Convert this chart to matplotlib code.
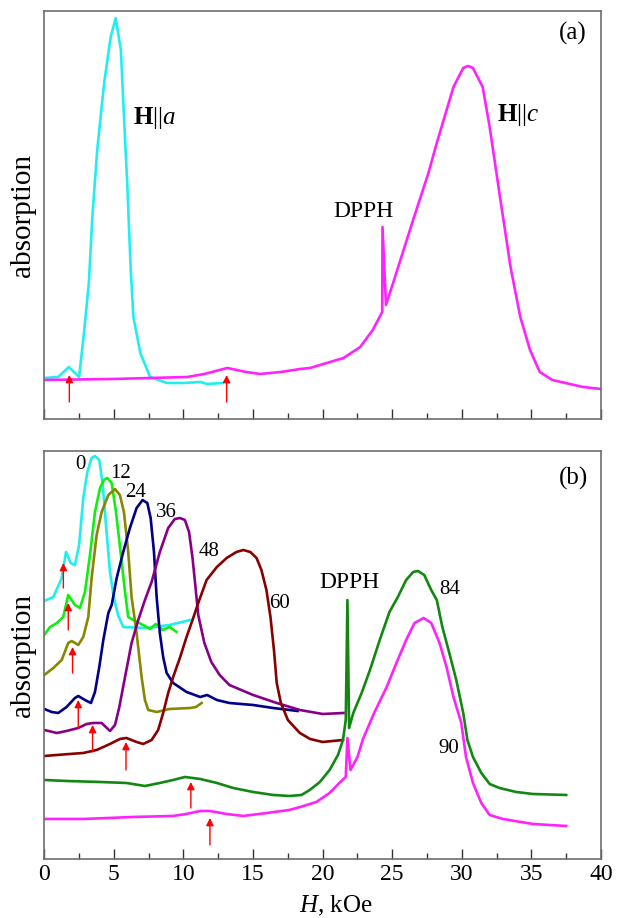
import numpy as np
import matplotlib
matplotlib.use("Agg")
from matplotlib import pyplot as plt
from matplotlib.ticker import MultipleLocator

plt.rcParams['font.family'] = ['Liberation Serif', 'DejaVu Serif']
plt.rcParams['mathtext.fontset'] = 'custom'
plt.rcParams['mathtext.rm'] = 'Liberation Serif'
plt.rcParams['mathtext.it'] = 'Liberation Serif:italic'
plt.rcParams['mathtext.bf'] = 'Liberation Serif:bold'

# ---- panel (a) ----
ha_H = [0, 1.0, 1.76, 2.5, 2.85, 3.2, 3.45, 3.8, 4.3, 4.77, 5.13, 5.5, 5.78, 5.97, 6.2, 6.4, 6.9, 7.6, 8.8, 10.0, 11.2, 11.7, 12.8]
ha_v = [41, 42, 52, 42, 86, 136, 202, 269, 336, 382, 401, 369, 286, 232, 152, 102, 66, 42, 36, 36, 37, 35, 36]

hc_H = [0, 5, 10.3, 11.5, 13.15, 14.5, 15.5, 17, 18.4, 19.1, 21.5, 22.7, 23.6, 24.28, 24.3, 24.55, 25.2, 26.5, 27.6, 28.2,
        29.4, 30.1, 30.45, 30.8, 31.5, 32.0, 32.7, 33.5, 34.2, 34.9, 35.6, 36.5, 38.7, 40]
hc_v = [39, 40, 42, 45, 51, 47, 45, 47, 50, 51, 61, 72, 89, 107, 192, 114, 142, 199, 246, 276,
        332, 351, 353, 351, 332, 292, 226, 152, 102, 69, 47, 39, 32, 30]

arrows_a = [1.8, 13.1]

# ---- panel (b) ----
c0_H = [0, 0.65, 1.25, 1.56, 1.9, 2.2, 2.5, 2.8, 3.09, 3.4, 3.64, 3.95, 4.2, 4.43, 4.72, 5.0, 5.3, 5.67, 7.35, 9.0, 10.5]
c0_v = [258, 262, 281, 307, 296, 294, 314, 361, 387, 401, 403, 399, 374, 334, 287, 261, 244, 232, 231, 234, 239]

c12_H = [0, 0.41, 0.9, 1.36, 1.72, 2.2, 2.56, 2.92, 3.28, 3.64, 4.0, 4.29, 4.52, 4.84, 5.15, 5.48, 5.8, 6.03, 6.4,
         7.1, 7.6, 8.0, 8.5, 9.0, 9.5]
c12_v = [224, 232, 236, 242, 264, 254, 251, 267, 304, 347, 371, 379, 381, 376, 347, 307, 267, 242, 239,
         234, 230, 235, 229, 232, 227]

c24_H = [0, 0.65, 1.25, 1.72, 1.97, 2.44, 2.8, 3.16, 3.4, 3.76, 4.12, 4.6, 5.08, 5.43, 5.72, 6.03, 6.27, 6.63, 6.99,
         7.23, 7.47, 8.07, 9.0, 10.5, 10.9, 11.3]
c24_v = [184, 191, 199, 216, 218, 214, 222, 242, 281, 324, 347, 364, 370, 364, 347, 307, 262, 226, 182,
         159, 149, 147, 150, 151, 152, 156]

c36_H = [0, 0.53, 1.0, 1.6, 2.2, 2.44, 2.92, 3.35, 3.64, 3.95, 4.24, 4.6, 4.84, 5.2, 5.67, 6.15, 6.63, 7.06, 7.4,
         7.64, 7.88, 8.07, 8.3, 8.54, 8.79, 9.26, 10.22, 11.2, 11.7, 12.4, 13.3, 15.0, 16.44, 18.2]
c36_v = [150, 147, 146, 152, 161, 163, 159, 156, 167, 192, 219, 246, 254, 281, 307, 331, 351, 359, 356,
         341, 307, 262, 226, 202, 186, 176, 167, 162, 164, 159, 156, 154, 151, 148]

c48_H = [0, 0.9, 1.6, 2.44, 3.04, 3.52, 4.12, 4.72, 5.08, 5.39, 5.8, 6.27, 6.75, 7.23, 7.71, 8.3, 8.9, 9.38, 9.74,
         10.1, 10.4, 10.65, 10.87, 11.06, 11.5, 12.0, 12.6, 13.3, 15.0, 16.7, 18.36, 20.0, 21.5]
c48_v = [129, 126, 128, 131, 135, 136, 136, 128, 134, 152, 182, 216, 239, 259, 277, 307, 331, 340, 341,
         339, 327, 301, 271, 244, 216, 197, 184, 174, 164, 156, 149, 145, 146]

c60_H = [0, 0.9, 1.84, 2.8, 3.76, 4.72, 5.43, 5.9, 6.63, 7.1, 7.71, 8.18, 8.54, 8.9, 9.26, 9.74, 10.22, 10.7, 11.06,
         11.66, 12.4, 13.1, 13.8, 14.3, 14.8, 15.25, 15.6, 15.96, 16.25, 16.5, 16.7, 17.0, 17.5, 18.36, 19.1, 20.0, 21.46]
c60_v = [103, 104, 105, 106, 109, 115, 120, 121, 117, 115, 119, 129, 146, 166, 182, 201, 222, 241, 256,
         279, 292, 301, 307, 309, 307, 301, 289, 269, 242, 209, 176, 156, 139, 126, 120, 117, 119]

c84_H = [0, 1.6, 4.0, 5.9, 7.23, 8.3, 9.26, 10.1, 11.2, 12.4, 13.57, 15.0, 16.44, 17.64, 18.48, 19.07, 19.8, 20.5,
         21.1, 21.46, 21.66, 21.78, 21.9, 22.2, 22.8, 23.4, 24.1, 24.8, 25.4, 26.0, 26.5, 26.85, 27.3, 27.8, 28.2,
         28.6, 29.1, 29.6, 30.1, 30.4, 30.8, 31.4, 32.0, 32.7, 33.9, 35.1, 37.5]
c84_v = [79, 78, 77, 76, 73, 76, 79, 82, 80, 76, 71, 67, 64, 63, 64, 69, 77, 89,
         104, 119, 139, 259, 131, 146, 166, 189, 219, 247, 262, 279, 287, 288, 284, 269, 259,
         232, 206, 179, 146, 119, 102, 86, 75, 71, 67, 65, 64]

c90_H = [0, 2.8, 6.4, 9.26, 10.2, 11.2, 11.9, 13.1, 14.3, 16.0, 17.6, 18.4, 19.55, 20.5, 21.2, 21.66, 21.78, 22.0,
         22.5, 22.9, 23.7, 24.6, 25.3, 26.0, 26.6, 27.26, 27.8, 28.4, 28.9, 29.4, 29.96, 30.3, 30.8, 31.4, 32.0,
         32.95, 35.1, 37.5]
c90_v = [40, 40, 42, 43, 45, 48, 48, 45, 43, 46, 49, 52, 57, 66, 76, 82, 121, 89,
         102, 120, 146, 172, 196, 219, 236, 241, 236, 216, 192, 162, 136, 102, 76, 56, 44,
         40, 35, 33]

curves_b = [
    (c0_H, c0_v, '#22eeee'),
    (c12_H, c12_v, '#11ee11'),
    (c24_H, c24_v, '#888800'),
    (c36_H, c36_v, '#000088'),
    (c48_H, c48_v, '#880088'),
    (c60_H, c60_v, '#880000'),
    (c84_H, c84_v, '#118811'),
    (c90_H, c90_v, '#ff22ff'),
]

# arrows in (b): field position, base, tip
arrow_H = [1.37, 1.72, 2.03, 2.44, 3.47, 5.87, 10.53, 11.9]
arrow_base = [271, 229, 186, 131, 107, 89, 51, 14]
arrow_tip = [296, 256, 212, 159, 134, 117, 77, 41]

angle_labels = ['0', '12', '24', '36', '48', '60', '84', '90']
label_H = [2.58, 5.48, 6.58, 8.74, 11.85, 16.9, 29.1, 29.05]
label_v = [395, 386, 367, 347, 308, 255, 269, 110]

fig = plt.figure(figsize=(6.18, 9.18), dpi=100)
ax1 = fig.add_axes([0.0717, 0.5436, 0.9008, 0.4444])
ax2 = fig.add_axes([0.0717, 0.0643, 0.9008, 0.4444])

spine_col = '#6e6e6e'
for ax in (ax1, ax2):
    ax.set_xlim(0, 40)
    ax.set_ylim(0, 408)
    ax.set_yticks([])
    ax.xaxis.set_major_locator(MultipleLocator(5))
    ax.xaxis.set_minor_locator(MultipleLocator(2.5))
    ax.tick_params(axis='x', which='major', direction='in', length=7, width=1, color='#333333', labelsize=17)
    ax.tick_params(axis='x', which='minor', direction='in', length=4, width=1, color='#333333')
    for s in ax.spines.values():
        s.set_color(spine_col)
        s.set_linewidth(1.2)
    ax.set_ylabel('absorption', fontsize=21, labelpad=6)

ax1.tick_params(axis='x', which='both', labelbottom=False)

def arrow(ax, x, y0, y1):
    ax.annotate('', xy=(x, y1), xytext=(x, y0),
                arrowprops=dict(arrowstyle='-|>', color='red', lw=1.0,
                                mutation_scale=11, shrinkA=0, shrinkB=0))

# panel (a)
ax1.plot(ha_H, ha_v, color='#22eeee', lw=1.9)
ax1.plot(hc_H, hc_v, color='#ff22ff', lw=1.9)
for h in arrows_a:
    arrow(ax1, h, 17, 44)
ax1.text(6.37, 301, r'$\mathbf{H}||a$', fontsize=18, ha='left', va='center')
ax1.text(32.5, 304, r'$\mathbf{H}||c$', fontsize=18, ha='left', va='center')
ax1.text(22.95, 207, 'DPPH', fontsize=17, ha='center', va='center')
ax1.text(38.0, 386, '(a)', fontsize=18, ha='center', va='center')

# panel (b)
for H, v, col in curves_b:
    ax2.plot(H, v, color=col, lw=1.9)
for h, b, t in zip(arrow_H, arrow_base, arrow_tip):
    arrow(ax2, h, b, t)
for lab, h, v in zip(angle_labels, label_H, label_v):
    ax2.text(h, v, lab, fontsize=15, ha='center', va='center')
ax2.text(21.9, 277, 'DPPH', fontsize=17, ha='center', va='center')
ax2.text(38.0, 381, '(b)', fontsize=18, ha='center', va='center')

ax2.set_xlabel(r'$H$, $\mathrm{kOe}$', fontsize=18, labelpad=0)
ax2.xaxis.set_label_coords(0.524, -0.085)

fig.savefig('out.png', dpi=100)
